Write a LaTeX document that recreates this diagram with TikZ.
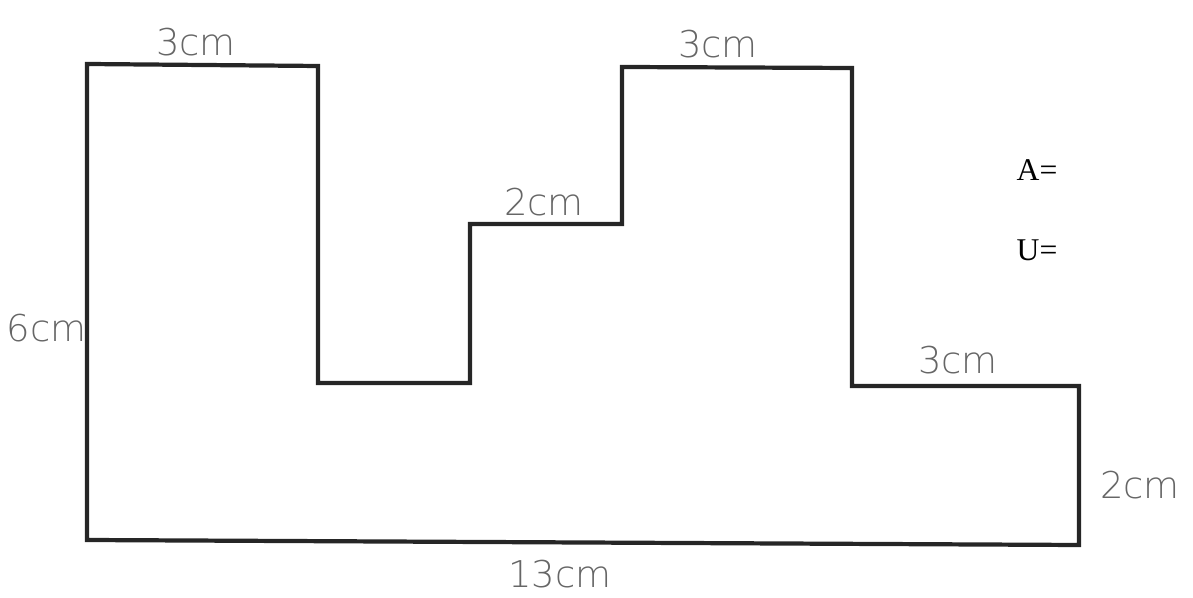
\documentclass[tikz,border=0pt]{standalone}
\usepackage{fontspec}
\newfontfamily\handfont{DejaVu Sans ExtraLight}
\newfontfamily\printfont{Liberation Serif}
\usepackage{tikz}
\tikzstyle{outline} = [line width=1.2pt, draw=black!85, line join=miter]
\tikzstyle{handlabel} = [font=\handfont\fontsize{10.5}{12}\selectfont, text=black!60, inner sep=0pt]
\tikzstyle{answer} = [font=\printfont\fontsize{9}{10}\selectfont, text=black, inner sep=0pt]

\begin{document}
\begin{tikzpicture}
					\useasboundingbox (0,0) rectangle (11.93,5.98);
					\draw[outline] (0.87,5.34) -- (3.18,5.32) -- (3.18,2.15) -- (4.70,2.15) -- (4.70,3.74) -- (6.22,3.74) -- (6.22,5.31) -- (8.52,5.30) -- (8.52,2.12) -- (10.79,2.12) -- (10.79,0.53) -- (0.87,0.58) -- cycle;
					\node[handlabel] (topleft) at (1.96,5.56) {3cm};
					\node[handlabel] (topright) at (7.18,5.54) {3cm};
					\node[handlabel] (step) at (5.44,3.96) {2cm};
					\node[handlabel, anchor=west] (left) at (0.06,2.70) {6cm};
					\node[handlabel] (ledge) at (9.58,2.38) {3cm};
					\node[handlabel] (right) at (11.40,1.13) {2cm};
					\node[handlabel] (bottom) at (5.60,0.24) {13cm};
					\node[answer] (area) at (10.37,4.28) {A=};
					\node[answer] (perim) at (10.37,3.48) {U=};
					\end{tikzpicture}
\end{document}
